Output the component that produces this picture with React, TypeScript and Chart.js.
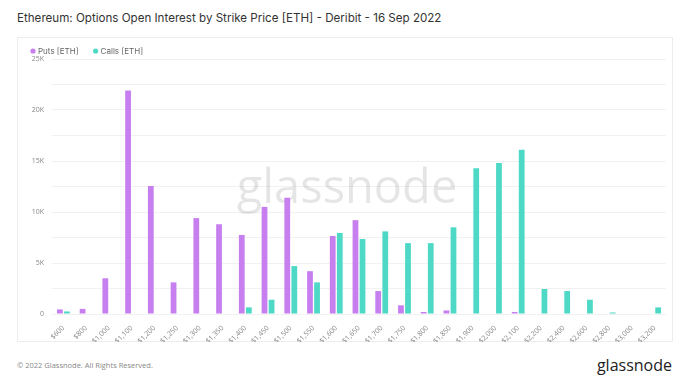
import React, { useEffect, useRef } from "react";
import { Chart, registerables } from "chart.js";

Chart.register(...registerables);

const strikes = [
  "$600", "$800", "$1,000", "$1,100", "$1,200", "$1,250", "$1,300", "$1,350", "$1,400",
  "$1,450", "$1,500", "$1,550", "$1,600", "$1,650", "$1,700", "$1,750", "$1,800", "$1,850",
  "$1,900", "$2,000", "$2,100", "$2,200", "$2,400", "$2,600", "$2,800", "$3,000", "$3,200",
];

const puts = [
  450, 500, 3500, 21900, 12550, 3100, 9400, 8800, 7750,
  10500, 11400, 4200, 7650, 9200, 2250, 850, 200, 350,
  0, 0, 200, 0, 0, 0, 0, 0, 0,
];

const calls = [
  250, 0, 0, 0, 0, 0, 0, 0, 650,
  1400, 4700, 3100, 7950, 7350, 8100, 6950, 6950, 8500,
  14300, 14800, 16100, 2450, 2250, 1400, 150, 0, 650,
];

const TITLE = "Ethereum: Options Open Interest by Strike Price [ETH] - Deribit - 16 Sep 2022";

const watermark = {
  id: "watermark",
  beforeDatasetsDraw(chart: any) {
    const { ctx, chartArea } = chart;
    ctx.save();
    ctx.font = "400 47px 'Open Sans', sans-serif";
    ctx.fillStyle = "rgba(0,0,0,0.1)";
    ctx.textAlign = "center";
    ctx.textBaseline = "alphabetic";
    ctx.fillText("glassnode", (chartArea.left + chartArea.right) / 2 - 12, 165);
    ctx.restore();
  },
};

const topLegend = {
  id: "topLegend",
  afterDraw(chart: any) {
    const { ctx } = chart;
    ctx.save();
    ctx.font = "8px Inter, sans-serif";
    ctx.textBaseline = "middle";
    ctx.textAlign = "left";
    let x = 16;
    const y = 13;
    chart.data.datasets.forEach((ds: any) => {
      ctx.fillStyle = ds.backgroundColor;
      ctx.beginPath();
      ctx.arc(x, y, 2.6, 0, Math.PI * 2);
      ctx.fill();
      ctx.fillStyle = "#666";
      ctx.fillText(ds.label, x + 5, y + 0.5);
      x += 5 + ctx.measureText(ds.label).width + 17;
    });
    ctx.restore();
  },
};

export default function App() {
  const ref = useRef<HTMLCanvasElement | null>(null);

  useEffect(() => {
    if (!ref.current) return;
    const chart = new Chart(ref.current, {
      type: "bar",
      data: {
        labels: strikes,
        datasets: [
          {
            label: "Puts [ETH]",
            data: puts,
            backgroundColor: "#c77ff0",
            borderWidth: 0,
          },
          {
            label: "Calls [ETH]",
            data: calls,
            backgroundColor: "#4ed9c7",
            borderWidth: 0,
          },
        ],
      },
      options: {
        animation: false,
        responsive: false,
        maintainAspectRatio: false,
        layout: { padding: { left: 0, right: 7, top: 21, bottom: 0 } },
        datasets: {
          bar: { categoryPercentage: 0.62, barPercentage: 0.82 },
        },
        plugins: {
          legend: { display: false },
          tooltip: { enabled: false },
        },
        scales: {
          x: {
            grid: { display: false },
            border: { display: false },
            ticks: {
              autoSkip: false,
              maxRotation: 45,
              minRotation: 45,
              color: "#888",
              padding: 2,
              font: { size: 7, family: "'Open Sans', sans-serif" },
            },
            afterFit(scale: any) {
              scale.height = 28;
            },
          },
          y: {
            min: 0,
            max: 25000,
            grid: { color: "#f1f1f1", drawTicks: false },
            border: { display: false },
            ticks: {
              stepSize: 2500,
              color: "#888",
              padding: 8,
              font: { size: 7, family: "'Open Sans', sans-serif" },
              callback: (v: any) =>
                v % 5000 === 0 ? (v === 0 ? "0" : v / 1000 + "K") : "",
            },
            afterFit(scale: any) {
              scale.width = 35;
            },
          },
        },
      },
      plugins: [watermark, topLegend],
    });
    return () => chart.destroy();
  }, []);

  return (
    <div
      style={{
        position: "absolute",
        left: 0,
        top: 0,
        width: 700,
        height: 381,
        background: "#fff",
        fontFamily: "Inter, sans-serif",
      }}
    >
      <div
        style={{
          position: "absolute",
          left: 17,
          top: 11,
          fontSize: 11.6,
          color: "#333",
          whiteSpace: "nowrap",
        }}
      >
        {TITLE}
      </div>
      <div
        style={{
          position: "absolute",
          left: 17,
          top: 37,
          width: 656,
          height: 305,
          border: "1px solid #ededed",
          boxSizing: "border-box",
        }}
      />
      <canvas
        ref={ref}
        width={656}
        height={304}
        style={{ position: "absolute", left: 17, top: 38, width: 656, height: 304 }}
      />
      <div
        style={{
          position: "absolute",
          left: 17,
          top: 360,
          fontSize: 7.5,
          color: "#888",
          whiteSpace: "nowrap",
          fontFamily: "'Open Sans', sans-serif",
        }}
      >
        © 2022 Glassnode. All Rights Reserved.
      </div>
      <div
        style={{
          position: "absolute",
          right: 28,
          top: 354,
          fontSize: 16,
          fontWeight: 500,
          color: "#222",
          whiteSpace: "nowrap",
          fontFamily: "'Open Sans', sans-serif",
        }}
      >
        glassnode
      </div>
    </div>
  );
}
